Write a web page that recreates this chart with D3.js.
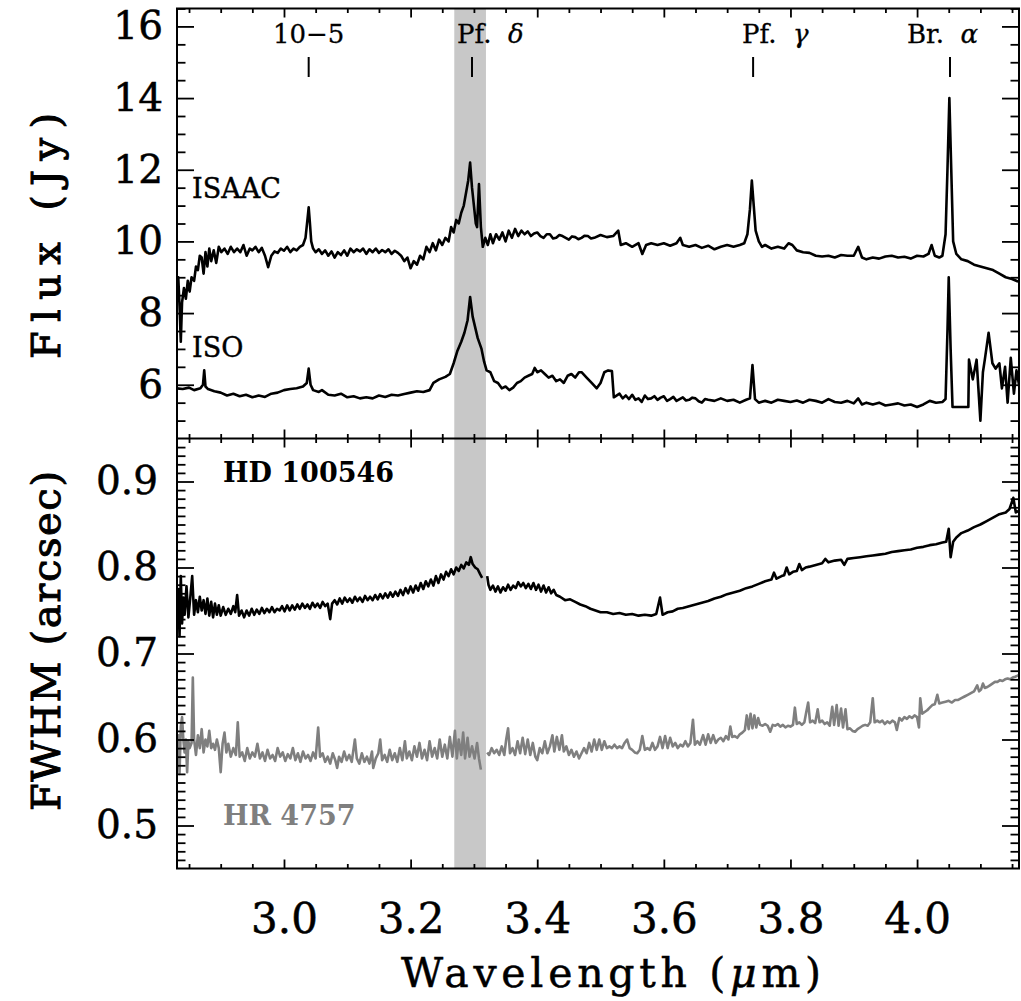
<!DOCTYPE html>
<html><head><meta charset="utf-8">
<script src="https://cdn.jsdelivr.net/npm/d3@7"></script>
<style>body{margin:0;background:#fff} text{font-family:'DejaVu Serif','Liberation Serif',serif}</style>
</head><body><svg id="c" width="1021" height="1001"></svg>
<script>
// ---------------- data ----------------
const xTicks = [3.0, 3.2, 3.4, 3.6, 3.8, 4.0];
const fluxTicks = [6, 8, 10, 12, 14, 16];
const fwhmTicks = [0.5, 0.6, 0.7, 0.8, 0.9];
const lineNames = ["10\u22125", "Pf.", "Pf.", "Br."];
const lineGreek = ["", "\u03B4", "\u03B3", "\u03B1"];
const lineWavelengths = [3.039, 3.297, 3.741, 4.052];
const pahBand = [3.269, 3.319];

const isaacSpectrum = [
[2.831,8.6],[2.833,9.0],[2.835,8.2],[2.837,7.2],[2.839,8.3],[2.842,8.7],[2.845,8.4],[2.848,8.9],[2.851,8.6],[2.854,9.0],[2.858,8.9],[2.861,9.3],[2.864,9.2],[2.867,9.6],[2.870,9.55],[2.873,9.1],[2.876,9.7],[2.879,9.3],[2.882,9.8],[2.885,9.45],[2.889,9.75],[2.893,9.4],[2.897,9.85],[2.901,9.7],[2.906,9.8],[2.911,9.65],[2.916,9.85],[2.921,9.7],[2.926,9.8],[2.931,9.7],[2.936,9.9],[2.941,9.6],[2.946,9.8],[2.950,9.75],[2.955,9.85],[2.960,9.7],[2.965,9.82],[2.970,9.6],[2.975,9.28],[2.980,9.6],[2.985,9.72],[2.990,9.68],[2.995,9.8],[3.000,9.74],[3.005,9.85],[3.010,9.7],[3.015,9.8],[3.020,9.75],[3.025,9.85],[3.030,9.9],[3.034,10.1],[3.037,10.6],[3.039,10.95],[3.041,10.5],[3.043,10.0],[3.046,9.8],[3.050,9.7],[3.055,9.78],[3.060,9.65],[3.065,9.75],[3.070,9.6],[3.075,9.72],[3.080,9.55],[3.085,9.7],[3.090,9.62],[3.095,9.75],[3.100,9.6],[3.105,9.8],[3.110,9.7],[3.115,9.78],[3.120,9.72],[3.125,9.8],[3.130,9.65],[3.135,9.78],[3.140,9.7],[3.145,9.8],[3.150,9.68],[3.155,9.76],[3.160,9.7],[3.165,9.78],[3.170,9.65],[3.175,9.74],[3.180,9.68],[3.185,9.6],[3.190,9.45],[3.195,9.55],[3.200,9.25],[3.205,9.45],[3.210,9.35],[3.215,9.6],[3.220,9.5],[3.225,9.85],[3.230,9.7],[3.235,9.95],[3.240,9.75],[3.245,10.05],[3.250,9.9],[3.255,10.1],[3.260,10.0],[3.264,10.4],[3.268,10.25],[3.272,10.6],[3.276,10.5],[3.280,10.8],[3.284,11.0],[3.288,11.4],[3.291,11.7],[3.294,12.2],[3.297,11.5],[3.300,11.0],[3.303,10.5],[3.305,10.4],[3.308,11.6],[3.311,10.4],[3.314,9.85],[3.318,10.1],[3.322,9.9],[3.326,10.2],[3.330,9.95],[3.335,10.2],[3.340,10.05],[3.345,10.25],[3.350,10.0],[3.355,10.3],[3.360,10.1],[3.365,10.35],[3.370,10.15],[3.375,10.3],[3.380,10.2],[3.385,10.28],[3.390,10.15],[3.395,10.22],[3.400,10.25],[3.405,10.15],[3.410,10.1],[3.415,10.2],[3.420,10.2],[3.425,10.08],[3.430,10.1],[3.435,10.18],[3.440,10.15],[3.445,10.1],[3.450,10.05],[3.455,10.14],[3.460,10.12],[3.465,10.06],[3.470,10.1],[3.475,10.16],[3.480,10.15],[3.485,10.08],[3.490,10.1],[3.500,10.18],[3.510,10.12],[3.520,10.15],[3.528,10.3],[3.532,9.9],[3.540,9.95],[3.550,9.85],[3.560,9.95],[3.566,9.65],[3.572,9.9],[3.580,9.95],[3.590,9.9],[3.600,9.95],[3.610,9.88],[3.620,9.95],[3.626,10.1],[3.630,9.9],[3.640,9.85],[3.650,9.9],[3.660,9.82],[3.670,9.88],[3.680,9.78],[3.690,9.85],[3.700,9.9],[3.710,9.85],[3.720,9.9],[3.727,9.95],[3.732,10.2],[3.736,10.9],[3.739,11.7],[3.742,11.0],[3.745,10.3],[3.750,10.0],[3.755,9.85],[3.760,9.9],[3.770,9.8],[3.780,9.85],[3.790,9.8],[3.797,9.95],[3.803,9.9],[3.810,9.75],[3.820,9.7],[3.830,9.68],[3.840,9.6],[3.850,9.58],[3.860,9.6],[3.870,9.55],[3.880,9.62],[3.890,9.6],[3.900,9.6],[3.907,9.85],[3.913,9.55],[3.920,9.5],[3.930,9.55],[3.940,9.52],[3.950,9.58],[3.960,9.6],[3.970,9.55],[3.980,9.57],[3.990,9.52],[4.000,9.6],[4.010,9.58],[4.018,9.65],[4.023,9.9],[4.028,9.6],[4.035,9.55],[4.040,9.6],[4.045,10.2],[4.048,12.0],[4.051,14.0],[4.054,12.0],[4.057,10.0],[4.062,9.65],[4.070,9.5],[4.080,9.45],[4.090,9.35],[4.100,9.3],[4.110,9.25],[4.120,9.2],[4.130,9.1],[4.140,9.0],[4.150,8.95],[4.161,8.87]
];

const isoSpectrum = [
[2.831,5.9],[2.840,5.88],[2.850,5.92],[2.858,5.85],[2.868,5.9],[2.872,6.0],[2.874,6.4],[2.876,5.95],[2.880,5.88],[2.890,5.82],[2.900,5.78],[2.910,5.7],[2.920,5.75],[2.930,5.68],[2.940,5.72],[2.950,5.65],[2.960,5.7],[2.970,5.66],[2.980,5.75],[2.990,5.78],[3.000,5.85],[3.010,5.88],[3.020,5.9],[3.030,5.95],[3.036,6.05],[3.039,6.45],[3.042,6.0],[3.046,5.85],[3.055,5.8],[3.060,5.85],[3.070,5.72],[3.080,5.7],[3.090,5.75],[3.100,5.65],[3.110,5.68],[3.120,5.62],[3.130,5.65],[3.140,5.62],[3.150,5.7],[3.160,5.66],[3.170,5.72],[3.180,5.7],[3.190,5.74],[3.200,5.78],[3.210,5.82],[3.220,5.8],[3.230,5.85],[3.236,6.05],[3.245,6.15],[3.255,6.22],[3.262,6.3],[3.268,6.6],[3.274,6.95],[3.280,7.2],[3.285,7.45],[3.290,7.8],[3.294,8.45],[3.298,7.9],[3.302,7.6],[3.306,7.3],[3.312,7.0],[3.316,6.65],[3.320,6.4],[3.326,6.35],[3.332,6.1],[3.338,6.05],[3.344,5.9],[3.350,5.95],[3.356,5.85],[3.362,5.92],[3.368,6.05],[3.374,6.1],[3.380,6.2],[3.386,6.25],[3.392,6.3],[3.396,6.47],[3.400,6.35],[3.406,6.4],[3.412,6.3],[3.418,6.2],[3.424,6.25],[3.430,6.1],[3.436,6.15],[3.442,6.05],[3.448,6.25],[3.454,6.3],[3.460,6.2],[3.466,6.35],[3.470,6.35],[3.478,6.2],[3.486,6.05],[3.494,5.9],[3.500,6.05],[3.506,6.35],[3.512,6.4],[3.518,6.38],[3.521,5.65],[3.530,5.75],[3.535,5.62],[3.540,5.7],[3.545,5.6],[3.550,5.72],[3.555,5.58],[3.560,5.62],[3.565,5.52],[3.570,5.7],[3.575,5.6],[3.580,5.62],[3.585,5.68],[3.590,5.58],[3.595,5.64],[3.600,5.68],[3.605,5.55],[3.610,5.6],[3.615,5.66],[3.620,5.55],[3.625,5.6],[3.630,5.65],[3.635,5.56],[3.640,5.58],[3.645,5.64],[3.650,5.62],[3.655,5.54],[3.660,5.5],[3.665,5.6],[3.670,5.58],[3.680,5.55],[3.690,5.62],[3.700,5.55],[3.710,5.58],[3.720,5.5],[3.730,5.58],[3.736,5.62],[3.740,6.55],[3.744,5.6],[3.750,5.5],[3.760,5.55],[3.770,5.5],[3.780,5.58],[3.790,5.55],[3.800,5.52],[3.810,5.56],[3.820,5.5],[3.830,5.58],[3.840,5.55],[3.850,5.5],[3.860,5.6],[3.870,5.52],[3.880,5.5],[3.890,5.55],[3.900,5.48],[3.907,5.62],[3.913,5.45],[3.920,5.5],[3.930,5.45],[3.940,5.5],[3.950,5.42],[3.960,5.45],[3.970,5.48],[3.980,5.42],[3.990,5.45],[4.000,5.38],[4.010,5.45],[4.020,5.55],[4.030,5.5],[4.040,5.52],[4.045,5.6],[4.048,7.5],[4.050,9.0],[4.053,7.0],[4.056,5.38],[4.070,5.38],[4.081,5.38],[4.082,6.7],[4.088,6.15],[4.094,6.7],[4.100,5.0],[4.104,6.35],[4.107,6.7],[4.113,7.45],[4.119,6.6],[4.124,6.45],[4.130,6.6],[4.134,5.9],[4.139,6.5],[4.143,5.5],[4.148,6.75],[4.153,5.75],[4.157,6.4],[4.161,6.0]
];

const hd100546Fwhm = [
[2.831,0.73],[2.833,0.775],[2.835,0.72],[2.837,0.79],[2.839,0.735],[2.841,0.765],[2.843,0.745],[2.846,0.778],[2.849,0.742],[2.852,0.765],[2.855,0.79],[2.858,0.745],[2.861,0.762],[2.864,0.748],[2.867,0.766],[2.870,0.75],[2.873,0.762],[2.876,0.746],[2.879,0.764],[2.882,0.744],[2.885,0.76],[2.888,0.742],[2.891,0.758],[2.894,0.745],[2.897,0.756],[2.900,0.744],[2.904,0.754],[2.908,0.745],[2.912,0.752],[2.916,0.746],[2.920,0.755],[2.923,0.748],[2.926,0.768],[2.929,0.744],[2.933,0.75],[2.937,0.742],[2.941,0.75],[2.945,0.744],[2.949,0.752],[2.953,0.745],[2.957,0.751],[2.961,0.746],[2.965,0.753],[2.969,0.747],[2.973,0.752],[2.977,0.748],[2.981,0.754],[2.985,0.748],[2.989,0.752],[2.993,0.75],[2.997,0.755],[3.001,0.749],[3.005,0.756],[3.009,0.75],[3.013,0.756],[3.017,0.751],[3.021,0.757],[3.025,0.752],[3.029,0.758],[3.033,0.753],[3.037,0.757],[3.041,0.752],[3.045,0.759],[3.049,0.754],[3.053,0.758],[3.057,0.753],[3.061,0.76],[3.065,0.755],[3.069,0.758],[3.073,0.74],[3.076,0.758],[3.080,0.762],[3.084,0.757],[3.088,0.764],[3.092,0.758],[3.096,0.765],[3.100,0.76],[3.104,0.764],[3.108,0.759],[3.112,0.766],[3.116,0.761],[3.120,0.765],[3.124,0.76],[3.128,0.767],[3.132,0.762],[3.136,0.766],[3.140,0.762],[3.144,0.768],[3.148,0.763],[3.152,0.769],[3.156,0.764],[3.160,0.77],[3.164,0.765],[3.168,0.771],[3.172,0.766],[3.176,0.772],[3.180,0.767],[3.184,0.774],[3.188,0.768],[3.192,0.776],[3.196,0.77],[3.200,0.778],[3.204,0.771],[3.208,0.779],[3.212,0.773],[3.216,0.782],[3.220,0.775],[3.224,0.784],[3.228,0.778],[3.232,0.786],[3.236,0.779],[3.240,0.79],[3.244,0.782],[3.248,0.792],[3.252,0.786],[3.256,0.795],[3.260,0.79],[3.264,0.798],[3.268,0.792],[3.272,0.8],[3.276,0.796],[3.280,0.803],[3.284,0.799],[3.288,0.806],[3.292,0.803],[3.295,0.812],[3.298,0.804],[3.302,0.8],[3.306,0.798],[3.310,0.792],[3.313,0.788],
[3.317,null],
[3.321,0.79],[3.323,0.78],[3.326,0.774],[3.330,0.779],[3.334,0.772],[3.338,0.778],[3.342,0.771],[3.346,0.777],[3.350,0.773],[3.354,0.78],[3.358,0.774],[3.362,0.779],[3.366,0.776],[3.370,0.783],[3.374,0.778],[3.378,0.782],[3.382,0.776],[3.386,0.781],[3.390,0.775],[3.394,0.782],[3.398,0.774],[3.402,0.78],[3.406,0.772],[3.410,0.779],[3.414,0.771],[3.418,0.777],[3.422,0.77],[3.426,0.774],[3.430,0.768],[3.436,0.766],[3.444,0.762],[3.452,0.763],[3.460,0.76],[3.468,0.757],[3.476,0.755],[3.484,0.752],[3.492,0.75],[3.500,0.748],[3.510,0.748],[3.520,0.746],[3.530,0.747],[3.540,0.745],[3.550,0.746],[3.560,0.744],[3.570,0.745],[3.580,0.744],[3.588,0.746],[3.594,0.765],[3.598,0.745],[3.606,0.748],[3.614,0.749],[3.622,0.752],[3.630,0.753],[3.640,0.755],[3.650,0.757],[3.660,0.759],[3.670,0.761],[3.680,0.764],[3.690,0.766],[3.700,0.769],[3.710,0.771],[3.720,0.773],[3.730,0.776],[3.740,0.778],[3.750,0.781],[3.760,0.784],[3.770,0.786],[3.774,0.794],[3.778,0.787],[3.786,0.79],[3.790,0.791],[3.794,0.8],[3.798,0.792],[3.804,0.795],[3.810,0.796],[3.814,0.804],[3.818,0.797],[3.824,0.8],[3.830,0.801],[3.840,0.803],[3.850,0.805],[3.855,0.81],[3.860,0.806],[3.870,0.808],[3.880,0.809],[3.885,0.803],[3.890,0.81],[3.900,0.811],[3.910,0.812],[3.920,0.813],[3.930,0.814],[3.940,0.815],[3.950,0.816],[3.960,0.818],[3.970,0.819],[3.980,0.82],[3.990,0.821],[4.000,0.823],[4.010,0.824],[4.020,0.826],[4.030,0.827],[4.040,0.829],[4.046,0.83],[4.050,0.845],[4.053,0.812],[4.057,0.83],[4.062,0.835],[4.070,0.84],[4.080,0.843],[4.090,0.847],[4.100,0.85],[4.110,0.854],[4.120,0.858],[4.130,0.862],[4.140,0.864],[4.146,0.868],[4.152,0.881],[4.156,0.864],[4.161,0.866]
];

const hr4757Fwhm = [
[2.831,0.59],[2.833,0.605],[2.835,0.56],[2.837,0.615],[2.839,0.626],[2.841,0.6],[2.843,0.585],[2.845,0.6],[2.847,0.562],[2.849,0.598],[2.851,0.59],[2.854,0.596],[2.856,0.672],[2.858,0.6],[2.861,0.582],[2.864,0.605],[2.867,0.59],[2.870,0.612],[2.873,0.585],[2.876,0.6],[2.879,0.592],[2.882,0.61],[2.885,0.59],[2.888,0.595],[2.891,0.588],[2.894,0.6],[2.897,0.59],[2.900,0.562],[2.903,0.595],[2.906,0.608],[2.909,0.585],[2.912,0.595],[2.916,0.58],[2.920,0.59],[2.924,0.582],[2.927,0.62],[2.930,0.58],[2.934,0.585],[2.938,0.575],[2.942,0.59],[2.946,0.578],[2.950,0.585],[2.954,0.58],[2.958,0.595],[2.962,0.578],[2.966,0.585],[2.970,0.575],[2.974,0.588],[2.978,0.578],[2.982,0.582],[2.986,0.575],[2.990,0.59],[2.994,0.58],[2.998,0.585],[3.002,0.575],[3.006,0.583],[3.010,0.578],[3.014,0.59],[3.018,0.576],[3.022,0.584],[3.026,0.574],[3.030,0.586],[3.034,0.578],[3.038,0.582],[3.042,0.575],[3.046,0.585],[3.050,0.578],[3.054,0.614],[3.057,0.58],[3.061,0.584],[3.065,0.574],[3.069,0.58],[3.073,0.572],[3.077,0.584],[3.081,0.576],[3.084,0.567],[3.087,0.58],[3.091,0.574],[3.095,0.586],[3.099,0.576],[3.103,0.582],[3.107,0.574],[3.112,0.6],[3.115,0.578],[3.119,0.572],[3.123,0.584],[3.127,0.574],[3.131,0.58],[3.135,0.572],[3.139,0.586],[3.141,0.567],[3.145,0.578],[3.149,0.584],[3.152,0.6],[3.155,0.576],[3.159,0.582],[3.163,0.574],[3.167,0.588],[3.171,0.576],[3.175,0.584],[3.179,0.574],[3.183,0.59],[3.187,0.576],[3.191,0.598],[3.194,0.578],[3.198,0.586],[3.202,0.576],[3.206,0.592],[3.210,0.58],[3.214,0.596],[3.218,0.578],[3.222,0.588],[3.226,0.576],[3.230,0.598],[3.234,0.58],[3.238,0.59],[3.242,0.578],[3.246,0.6],[3.250,0.58],[3.254,0.594],[3.258,0.578],[3.262,0.603],[3.266,0.58],[3.270,0.61],[3.273,0.578],[3.276,0.6],[3.280,0.582],[3.283,0.608],[3.286,0.578],[3.290,0.602],[3.293,0.58],[3.297,0.592],[3.301,0.578],[3.305,0.596],[3.308,0.578],[3.311,0.565],
[3.315,null],
[3.321,0.585],[3.324,0.582],[3.328,0.59],[3.332,0.584],[3.336,0.588],[3.340,0.582],[3.344,0.592],[3.348,0.582],[3.351,0.6],[3.354,0.613],[3.357,0.584],[3.361,0.59],[3.365,0.582],[3.369,0.598],[3.373,0.584],[3.377,0.602],[3.381,0.583],[3.385,0.6],[3.389,0.582],[3.393,0.596],[3.397,0.58],[3.400,0.576],[3.404,0.59],[3.408,0.584],[3.412,0.598],[3.416,0.584],[3.420,0.592],[3.424,0.605],[3.427,0.586],[3.431,0.603],[3.435,0.588],[3.439,0.605],[3.442,0.586],[3.446,0.592],[3.450,0.582],[3.454,0.588],[3.458,0.58],[3.462,0.586],[3.466,0.578],[3.470,0.584],[3.474,0.59],[3.478,0.584],[3.482,0.596],[3.486,0.586],[3.490,0.6],[3.494,0.588],[3.498,0.6],[3.502,0.588],[3.506,0.598],[3.510,0.59],[3.514,0.592],[3.518,0.59],[3.522,0.594],[3.526,0.59],[3.530,0.592],[3.534,0.59],[3.538,0.596],[3.542,0.6],[3.546,0.59],[3.550,0.588],[3.554,0.585],[3.558,0.584],[3.562,0.588],[3.566,0.604],[3.570,0.588],[3.574,0.59],[3.578,0.588],[3.582,0.596],[3.586,0.588],[3.590,0.592],[3.594,0.603],[3.598,0.59],[3.602,0.604],[3.606,0.59],[3.610,0.602],[3.614,0.592],[3.618,0.596],[3.622,0.59],[3.626,0.594],[3.630,0.592],[3.634,0.598],[3.638,0.592],[3.642,0.596],[3.646,0.623],[3.649,0.594],[3.653,0.598],[3.657,0.594],[3.662,0.605],[3.666,0.594],[3.670,0.606],[3.674,0.596],[3.678,0.605],[3.682,0.596],[3.686,0.6],[3.690,0.602],[3.694,0.598],[3.698,0.604],[3.702,0.6],[3.705,0.615],[3.708,0.603],[3.712,0.604],[3.716,0.602],[3.720,0.606],[3.724,0.608],[3.728,0.611],[3.731,0.628],[3.734,0.612],[3.737,0.63],[3.740,0.613],[3.743,0.628],[3.746,0.614],[3.749,0.625],[3.752,0.617],[3.756,0.616],[3.760,0.618],[3.764,0.616],[3.768,0.609],[3.772,0.617],[3.776,0.616],[3.780,0.618],[3.784,0.615],[3.788,0.617],[3.792,0.614],[3.796,0.616],[3.800,0.615],[3.804,0.617],[3.807,0.637],[3.810,0.618],[3.814,0.62],[3.818,0.617],[3.822,0.62],[3.825,0.632],[3.828,0.643],[3.831,0.62],[3.835,0.622],[3.839,0.619],[3.843,0.635],[3.846,0.62],[3.850,0.622],[3.854,0.618],[3.858,0.62],[3.862,0.616],[3.866,0.638],[3.869,0.617],[3.873,0.64],[3.876,0.616],[3.880,0.636],[3.883,0.614],[3.887,0.635],[3.890,0.612],[3.894,0.613],[3.898,0.61],[3.902,0.609],[3.906,0.612],[3.910,0.614],[3.914,0.616],[3.918,0.617],[3.922,0.616],[3.926,0.62],[3.930,0.648],[3.933,0.62],[3.937,0.622],[3.941,0.62],[3.945,0.622],[3.949,0.618],[3.953,0.621],[3.957,0.619],[3.961,0.622],[3.965,0.62],[3.968,0.611],[3.972,0.625],[3.976,0.622],[3.980,0.626],[3.984,0.624],[3.988,0.627],[3.992,0.625],[3.996,0.628],[4.000,0.626],[4.003,0.614],[4.005,0.648],[4.008,0.63],[4.012,0.632],[4.016,0.634],[4.020,0.637],[4.024,0.64],[4.028,0.641],[4.032,0.652],[4.035,0.642],[4.040,0.643],[4.045,0.644],[4.050,0.645],[4.055,0.643],[4.060,0.646],[4.065,0.646],[4.070,0.648],[4.075,0.65],[4.080,0.652],[4.085,0.654],[4.090,0.656],[4.095,0.663],[4.098,0.656],[4.101,0.658],[4.104,0.665],[4.107,0.66],[4.111,0.661],[4.115,0.663],[4.119,0.665],[4.123,0.667],[4.127,0.667],[4.131,0.669],[4.135,0.668],[4.139,0.67],[4.143,0.671],[4.147,0.67],[4.151,0.672],[4.155,0.673],[4.158,0.674],[4.161,0.675]
];

// ---------------- layout ----------------
const L = 177, R = 1019, T = 8.5, MID = 438.5, B = 868.5;
const svg = d3.select("#c");
const x = d3.scaleLinear().domain([2.831, 4.161]).range([L, R]);
const yFlux = d3.scaleLinear().domain([4.5, 16.5]).range([MID, T]);
const yFwhm = d3.scaleLinear().domain([0.45, 0.95]).range([B, MID]);

const near = (a, arr) => arr.some(v => Math.abs(v - a) < 1e-6);
const xMinor = d3.range(2.85, 4.16, 0.05).map(v => +v.toFixed(2)).filter(v => !near(v, xTicks));
const fluxMinor = d3.range(5, 16.6, 0.5).filter(v => !near(v, fluxTicks));
const fwhmMinor = d3.range(0.46, 0.945, 0.01).map(v => +v.toFixed(2)).filter(v => !near(v, fwhmTicks));

const defs = svg.append("defs");
defs.append("clipPath").attr("id", "clipTop").append("rect").attr("x", L).attr("y", T).attr("width", R - L).attr("height", MID - T);
defs.append("clipPath").attr("id", "clipBot").append("rect").attr("x", L).attr("y", MID).attr("width", R - L).attr("height", B - MID);

// PAH band
svg.append("rect").attr("x", x(pahBand[0])).attr("y", T).attr("width", x(pahBand[1]) - x(pahBand[0]))
  .attr("height", B - T).attr("fill", "#c8c8c8");

// curves
function drawLine(data, y, clip, color) {
  const gen = d3.line().defined(d => d[1] !== null).x(d => x(d[0])).y(d => y(d[1])).curve(d3.curveLinear);
  svg.append("path").datum(data).attr("d", gen).attr("clip-path", `url(#${clip})`)
    .attr("fill", "none").attr("stroke", color).attr("stroke-width", 2.6).attr("stroke-linejoin", "round");
}
drawLine(isaacSpectrum, yFlux, "clipTop", "#000");
drawLine(isoSpectrum, yFlux, "clipTop", "#000");
drawLine(hd100546Fwhm, yFwhm, "clipBot", "#000");
drawLine(hr4757Fwhm, yFwhm, "clipBot", "#7f7f7f");

// axes
function styleAxis(g) {
  g.select(".domain").remove();
  g.selectAll(".tick line").attr("stroke", "#000").attr("stroke-width", 1.8);
  g.selectAll(".tick text").attr("fill", "#000").attr("stroke", "#000").attr("stroke-width", 0.5)
    .attr("font-family", "'DejaVu Serif',serif");
}
function panelAxes(y, major, minor, top, bottom, labelPad, xLabels) {
  svg.append("g").attr("transform", `translate(${L},0)`)
    .call(d3.axisLeft(y).tickValues(major).tickSize(-17).tickPadding(labelPad).tickFormat(d => y === yFlux ? d3.format("d")(d) : d3.format(".1f")(d)))
    .call(styleAxis).selectAll(".tick text").attr("font-size", 39);
  svg.append("g").attr("transform", `translate(${L},0)`)
    .call(d3.axisLeft(y).tickValues(minor).tickSize(-8.5).tickFormat("")).call(styleAxis);
  svg.append("g").attr("transform", `translate(${R},0)`)
    .call(d3.axisRight(y).tickValues(major).tickSize(-17).tickFormat("")).call(styleAxis);
  svg.append("g").attr("transform", `translate(${R},0)`)
    .call(d3.axisRight(y).tickValues(minor).tickSize(-8.5).tickFormat("")).call(styleAxis);
  svg.append("g").attr("transform", `translate(0,${top})`)
    .call(d3.axisTop(x).tickValues(xTicks).tickSize(-9).tickFormat("")).call(styleAxis);
  svg.append("g").attr("transform", `translate(0,${top})`)
    .call(d3.axisTop(x).tickValues(xMinor).tickSize(-4.5).tickFormat("")).call(styleAxis);
  const gb = svg.append("g").attr("transform", `translate(0,${bottom})`)
    .call(d3.axisBottom(x).tickValues(xTicks).tickSize(-9).tickPadding(35).tickFormat(xLabels ? d3.format(".1f") : ""))
    .call(styleAxis);
  gb.selectAll(".tick text").attr("font-size", 42);
  svg.append("g").attr("transform", `translate(0,${bottom})`)
    .call(d3.axisBottom(x).tickValues(xMinor).tickSize(-4.5).tickFormat("")).call(styleAxis);
}
panelAxes(yFlux, fluxTicks, fluxMinor, T, MID, 14, false);
panelAxes(yFwhm, fwhmTicks, fwhmMinor, MID, B, 19, true);

// frame
svg.append("rect").attr("x", L).attr("y", T).attr("width", R - L).attr("height", B - T)
  .attr("fill", "none").attr("stroke", "#000").attr("stroke-width", 2);
svg.append("line").attr("x1", L).attr("x2", R).attr("y1", MID).attr("y2", MID).attr("stroke", "#000").attr("stroke-width", 2);

// axis titles
svg.append("text").attr("transform", "translate(60,236) rotate(-90)").attr("text-anchor", "middle")
  .attr("font-size", 40).attr("textLength", 246).attr("lengthAdjust", "spacing")
  .attr("stroke", "#000").attr("stroke-width", 1).text("Flux (Jy)");
svg.append("text").attr("transform", "translate(60,641) rotate(-90)").attr("text-anchor", "middle")
  .attr("font-size", 40).attr("textLength", 340).attr("lengthAdjust", "spacing")
  .attr("stroke", "#000").attr("stroke-width", 1).text("FWHM (arcsec)");
const xt = svg.append("text").attr("x", 611).attr("y", 987).attr("text-anchor", "middle")
  .attr("font-size", 41).attr("textLength", 420).attr("lengthAdjust", "spacing")
  .attr("stroke", "#000").attr("stroke-width", 0.5);
xt.append("tspan").text("Wavelength (");
xt.append("tspan").attr("font-style", "italic").text("\u03BC");
xt.append("tspan").text("m)");

// line identifications
const labelDx = [0, -15, -11, -43];
lineWavelengths.forEach((w, i) => {
  svg.append("line").attr("x1", x(w)).attr("x2", x(w)).attr("y1", 57).attr("y2", 77)
    .attr("stroke", "#000").attr("stroke-width", 2);
  const t = svg.append("text").attr("y", 43).attr("font-size", 26).attr("stroke", "#000").attr("stroke-width", 0.3);
  if (i === 0) { t.attr("x", x(w)).attr("text-anchor", "middle").text(lineNames[i]); }
  else {
    t.attr("x", x(w) + labelDx[i]);
    t.append("tspan").text(lineNames[i] + "\u00A0\u00A0");
    t.append("tspan").attr("font-style", "italic").text(lineGreek[i]);
  }
});

// series labels
svg.append("text").attr("x", 192).attr("y", 198).attr("font-size", 27).attr("stroke", "#000").attr("stroke-width", 0.4).text("ISAAC");
svg.append("text").attr("x", 192).attr("y", 357).attr("font-size", 27).attr("stroke", "#000").attr("stroke-width", 0.4).text("ISO");
svg.append("text").attr("x", 223).attr("y", 482).attr("font-size", 27).attr("font-weight", "bold").text("HD 100546");
svg.append("text").attr("x", 223).attr("y", 825).attr("font-size", 27).attr("font-weight", "bold").attr("fill", "#7f7f7f").text("HR 4757");
</script></body></html>
